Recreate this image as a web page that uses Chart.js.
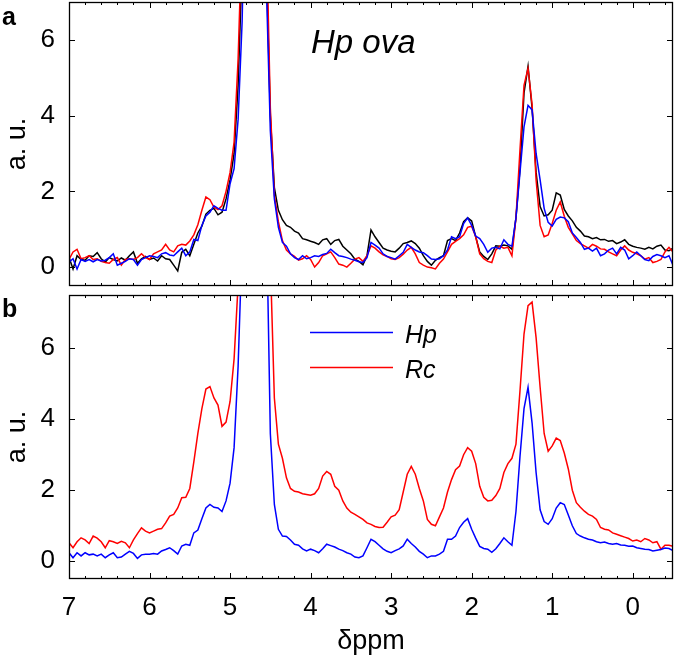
<!DOCTYPE html>
<html lang="en">
<head>
<meta charset="UTF-8">
<title>Hp ova spectra</title>
<script src="https://cdn.jsdelivr.net/npm/chart.js"></script>
<style>
  body { margin: 0; background: #fff; }
  .panel { position: absolute; left: 0; width: 675px; }
  #panel-a { top: 0; height: 290px; }
  #panel-b { top: 290px; height: 368px; }
</style>
</head>
<body>
<div class="panel" id="panel-a"><canvas id="chart-a"></canvas></div>
<div class="panel" id="panel-b"><canvas id="chart-b"></canvas></div>
<script>
// chemical shift grid (ppm), 7.00 down to -0.50
const ppm = [
  7.00, 6.95, 6.90, 6.85, 6.80, 6.75, 6.70, 6.65, 6.60, 6.55,
  6.50, 6.45, 6.40, 6.35, 6.30, 6.25, 6.20, 6.15, 6.10, 6.05,
  6.00, 5.95, 5.90, 5.85, 5.80, 5.75, 5.70, 5.65, 5.60, 5.55,
  5.50, 5.45, 5.40, 5.35, 5.30, 5.25, 5.20, 5.15, 5.10, 5.05,
  5.00, 4.95, 4.90, 4.85, 4.80, 4.75, 4.70, 4.65, 4.60, 4.55,
  4.50, 4.45, 4.40, 4.35, 4.30, 4.25, 4.20, 4.15, 4.10, 4.05,
  4.00, 3.95, 3.90, 3.85, 3.80, 3.75, 3.70, 3.65, 3.60, 3.55,
  3.50, 3.45, 3.40, 3.35, 3.30, 3.25, 3.20, 3.15, 3.10, 3.05,
  3.00, 2.95, 2.90, 2.85, 2.80, 2.75, 2.70, 2.65, 2.60, 2.55,
  2.50, 2.45, 2.40, 2.35, 2.30, 2.25, 2.20, 2.15, 2.10, 2.05,
  2.00, 1.95, 1.90, 1.85, 1.80, 1.75, 1.70, 1.65, 1.60, 1.55,
  1.50, 1.45, 1.40, 1.35, 1.30, 1.25, 1.20, 1.15, 1.10, 1.05,
  1.00, 0.95, 0.90, 0.85, 0.80, 0.75, 0.70, 0.65, 0.60, 0.55,
  0.50, 0.45, 0.40, 0.35, 0.30, 0.25, 0.20, 0.15, 0.10, 0.05,
  0.00, -0.05, -0.10, -0.15, -0.20, -0.25, -0.30, -0.35, -0.40, -0.45,
  -0.50
];

// panel a - Hp ova, three spectra
const ovaBlack = [
  0.26, -0.05, 0.30, 0.20, 0.18, 0.30, 0.28, 0.38, 0.22, 0.13,
  0.25, 0.20, 0.16, 0.24, 0.18, 0.30, 0.40, 0.10, 0.22, 0.28,
  0.20, 0.24, 0.16, 0.30, 0.22, 0.20, 0.05, -0.10, 0.39, 0.47,
  0.30, 0.60, 0.90, 1.08, 1.40, 1.50, 1.55, 1.38, 1.45, 1.80,
  2.30, 3.00, 4.80, 8.0, 14, 22, 28, 28, 20, 8.0,
  4.00, 2.10, 1.50, 1.25, 1.10, 1.05, 0.95, 0.90, 0.75, 0.72,
  0.68, 0.65, 0.60, 0.72, 0.75, 0.60, 0.70, 0.73, 0.55, 0.45,
  0.35, 0.21, 0.15, 0.06, 0.30, 0.98, 0.80, 0.65, 0.50, 0.45,
  0.42, 0.40, 0.50, 0.62, 0.65, 0.69, 0.62, 0.50, 0.30, 0.15,
  0.05, 0.18, 0.25, 0.30, 0.70, 0.75, 0.70, 0.90, 1.20, 1.30,
  1.22, 0.80, 0.40, 0.28, 0.20, 0.35, 0.56, 0.55, 0.58, 0.56,
  0.47, 1.30, 2.60, 4.60, 5.30, 4.20, 2.50, 1.60, 1.35, 1.38,
  1.50, 1.96, 1.90, 1.52, 1.35, 1.22, 1.05, 0.95, 0.82, 0.80,
  0.75, 0.78, 0.72, 0.73, 0.68, 0.70, 0.62, 0.66, 0.72, 0.60,
  0.55, 0.52, 0.50, 0.47, 0.52, 0.48, 0.55, 0.58, 0.45, 0.43,
  0.50
];
const ovaRed = [
  0.20, 0.40, 0.47, 0.22, 0.25, 0.30, 0.20, 0.22, 0.15, 0.12,
  0.10, 0.20, 0.25, 0.05, 0.20, 0.22, 0.20, 0.25, 0.35, 0.25,
  0.20, 0.35, 0.40, 0.45, 0.60, 0.45, 0.40, 0.56, 0.60, 0.58,
  0.69, 0.85, 1.12, 1.50, 1.85, 1.78, 1.58, 1.52, 1.62, 2.00,
  2.50, 3.30, 5.50, 9.0, 15, 23, 28, 28, 21, 9.0,
  4.20, 1.90, 1.20, 0.70, 0.45, 0.35, 0.28, 0.18, 0.22, 0.30,
  0.20, 0.00, 0.12, 0.30, 0.35, 0.40, 0.25, 0.08, 0.05, 0.00,
  0.10, 0.21, 0.25, 0.15, 0.30, 0.56, 0.50, 0.40, 0.32, 0.28,
  0.22, 0.20, 0.25, 0.34, 0.45, 0.52, 0.35, 0.12, 0.05, 0.00,
  -0.02, -0.05, 0.10, 0.21, 0.40, 0.60, 0.68, 0.75, 0.85, 1.05,
  1.08, 0.80, 0.35, 0.22, 0.15, 0.12, 0.45, 0.55, 0.50, 0.52,
  0.30, 1.30, 3.10, 4.80, 5.25, 4.30, 2.30, 1.10, 0.80, 0.85,
  1.15, 1.50, 1.72, 1.34, 1.05, 0.88, 0.70, 0.62, 0.56, 0.50,
  0.60, 0.55, 0.48, 0.47, 0.40, 0.35, 0.30, 0.45, 0.56, 0.45,
  0.39, 0.35, 0.30, 0.21, 0.25, 0.12, 0.15, 0.20, 0.40, 0.52,
  0.40
];
const ovaBlue = [
  0.13, 0.22, -0.05, 0.20, 0.15, 0.20, 0.14, 0.20, 0.16, 0.18,
  0.25, 0.35, 0.05, 0.10, 0.15, 0.22, 0.20, 0.05, 0.20, 0.25,
  0.30, 0.28, 0.25, 0.35, 0.38, 0.32, 0.30, 0.40, 0.50, 0.30,
  0.40, 0.73, 0.70, 1.10, 1.35, 1.45, 1.62, 1.55, 1.50, 1.50,
  2.20, 2.60, 3.90, 6.5, 12, 20, 27, 27, 19, 7.5,
  3.60, 1.80, 1.05, 0.65, 0.55, 0.35, 0.25, 0.20, 0.30, 0.22,
  0.25, 0.30, 0.28, 0.33, 0.36, 0.47, 0.38, 0.30, 0.28, 0.25,
  0.21, 0.18, 0.14, 0.12, 0.25, 0.65, 0.58, 0.50, 0.35, 0.28,
  0.25, 0.21, 0.30, 0.39, 0.60, 0.52, 0.45, 0.40, 0.38, 0.30,
  0.21, 0.20, 0.22, 0.30, 0.45, 0.80, 0.75, 0.80, 1.15, 1.30,
  1.10, 0.82, 0.75, 0.60, 0.39, 0.50, 0.52, 0.48, 0.72, 0.60,
  0.55, 1.30, 2.50, 3.70, 4.27, 4.15, 3.00, 2.30, 1.55, 1.18,
  1.08, 1.26, 1.32, 1.30, 1.20, 0.90, 0.78, 0.65, 0.47, 0.50,
  0.42, 0.50, 0.30, 0.35, 0.45, 0.50, 0.35, 0.52, 0.45, 0.22,
  0.30, 0.40, 0.30, 0.20, 0.17, 0.28, 0.33, 0.30, 0.25, 0.30,
  0.05
];

// panel b - Hp vs Rc
const hpValues = [
  0.24, 0.10, 0.24, 0.15, 0.24, 0.18, 0.20, 0.15, 0.20, 0.10,
  0.18, 0.24, 0.10, 0.12, 0.20, 0.28, 0.22, 0.08, 0.18, 0.20,
  0.20, 0.22, 0.20, 0.29, 0.33, 0.38, 0.30, 0.20, 0.43, 0.48,
  0.45, 0.80, 0.88, 1.20, 1.50, 1.60, 1.52, 1.50, 1.40, 1.70,
  2.20, 3.20, 5.50, 9.0, 16, 25, 32, 32, 24, 10,
  3.60, 1.60, 0.90, 0.71, 0.70, 0.60, 0.48, 0.45, 0.35, 0.29,
  0.34, 0.30, 0.24, 0.35, 0.48, 0.44, 0.40, 0.34, 0.30, 0.24,
  0.20, 0.12, 0.10, 0.15, 0.38, 0.62, 0.55, 0.45, 0.35, 0.28,
  0.24, 0.30, 0.35, 0.43, 0.62, 0.50, 0.40, 0.28, 0.20, 0.10,
  0.15, 0.15, 0.20, 0.28, 0.62, 0.62, 0.71, 0.95, 1.10, 1.20,
  0.90, 0.65, 0.42, 0.36, 0.34, 0.25, 0.35, 0.50, 0.66, 0.55,
  0.45, 1.40, 2.95, 4.30, 4.90, 3.90, 2.50, 1.45, 1.12, 1.04,
  1.20, 1.50, 1.65, 1.60, 1.30, 1.00, 0.78, 0.71, 0.66, 0.62,
  0.60, 0.55, 0.52, 0.54, 0.50, 0.48, 0.50, 0.46, 0.45, 0.42,
  0.43, 0.38, 0.36, 0.34, 0.33, 0.29, 0.31, 0.33, 0.37, 0.36,
  0.30
];
const rcValues = [
  0.52, 0.38, 0.55, 0.66, 0.60, 0.50, 0.71, 0.65, 0.55, 0.38,
  0.58, 0.55, 0.50, 0.56, 0.52, 0.38, 0.60, 0.78, 0.94, 0.85,
  0.80, 0.85, 0.90, 0.92, 1.08, 1.27, 1.32, 1.50, 1.79, 1.80,
  2.05, 2.80, 3.60, 4.30, 4.85, 4.92, 4.60, 4.40, 3.80, 3.92,
  4.50, 5.70, 7.80, 12, 20, 28, 34, 34, 28, 16,
  8.50, 4.60, 3.30, 2.90, 2.35, 2.05, 1.97, 1.95, 1.90, 1.88,
  1.86, 1.90, 2.05, 2.40, 2.53, 2.45, 2.11, 2.00, 1.70, 1.50,
  1.38, 1.32, 1.25, 1.18, 1.08, 1.04, 0.98, 0.95, 0.96, 1.10,
  1.25, 1.30, 1.45, 1.95, 2.45, 2.67, 2.45, 2.05, 1.70, 1.18,
  1.04, 1.00, 1.25, 1.50, 1.95, 2.30, 2.58, 2.68, 3.00, 3.20,
  3.10, 2.75, 2.11, 1.80, 1.70, 1.72, 1.85, 2.05, 2.50, 2.75,
  2.90, 3.30, 4.80, 6.40, 7.20, 7.30, 6.30, 4.90, 3.60, 3.10,
  3.25, 3.47, 3.40, 3.05, 2.60, 2.00, 1.65, 1.52, 1.41, 1.32,
  1.27, 1.18, 0.95, 0.90, 0.88, 0.80, 0.76, 0.72, 0.68, 0.64,
  0.57, 0.60, 0.55, 0.64, 0.60, 0.52, 0.55, 0.34, 0.45, 0.45,
  0.42
];

const xTicks = [7, 6, 5, 4, 3, 2, 1, 0];
const yTicks = [0, 2, 4, 6];
const seriesNames = ['Hp', 'Rc'];

Chart.defaults.font.family = '"Liberation Sans", Arial, sans-serif';
Chart.defaults.color = '#000';

function points(values) {
  return ppm.map((x, i) => ({ x: x, y: values[i] }));
}

function line(label, values, color) {
  return {
    label: label,
    data: points(values),
    borderColor: color,
    borderWidth: 1.5,
    pointRadius: 0,
    fill: false,
    tension: 0
  };
}

// box with inward tick marks on all four sides
const framePlugin = {
  id: 'frame',
  afterDatasetsDraw(chart) {
    const { ctx, chartArea: a, scales } = chart;
    const x = scales.x, y = scales.y;
    ctx.save();
    ctx.strokeStyle = '#000';
    ctx.lineWidth = 1.3;
    ctx.strokeRect(a.left + 0.5, a.top + 0.5, a.right - a.left - 1, a.bottom - a.top - 1);
    ctx.lineWidth = 1;
    ctx.beginPath();
    for (let k = 0; k <= 37; k++) {
      const v = 7 - k * 0.2;
      const major = Math.abs(v - Math.round(v)) < 0.01;
      const len = major ? 6 : 3;
      const px = Math.round(x.getPixelForValue(v)) + 0.5;
      ctx.moveTo(px, a.bottom);
      ctx.lineTo(px, a.bottom - len);
      ctx.moveTo(px, a.top);
      ctx.lineTo(px, a.top + len);
    }
    yTicks.forEach(v => {
      const py = Math.round(y.getPixelForValue(v)) + 0.5;
      ctx.moveTo(a.left, py);
      ctx.lineTo(a.left + 6, py);
      ctx.moveTo(a.right, py);
      ctx.lineTo(a.right - 6, py);
    });
    ctx.stroke();
    ctx.restore();
  }
};

function xScale(showLabels) {
  return {
    type: 'linear',
    reverse: true,
    min: -0.5,
    max: 7,
    display: showLabels,
    grid: { display: false },
    border: { display: false },
    afterBuildTicks: s => { s.ticks = xTicks.map(v => ({ value: v })); },
    ticks: { font: { size: 26 }, padding: 5, maxRotation: 0, autoSkip: false },
    title: { display: true, text: 'δppm', font: { size: 27 }, padding: { top: 0, bottom: 0 } },
    afterFit: s => {
      s.height = showLabels ? 79 : 0;
      s.paddingLeft = 0;
      s.paddingRight = 0;
    }
  };
}

function yScale(max) {
  return {
    type: 'linear',
    min: -0.5,
    max: max,
    grid: { display: false },
    border: { display: false },
    afterBuildTicks: s => { s.ticks = yTicks.map(v => ({ value: v })); },
    ticks: { font: { size: 26 }, padding: 6 },
    title: { display: true, text: 'a. u.', font: { size: 27 }, padding: { top: 1, bottom: 0 } },
    afterFit: s => {
      s.width = 69;
      s.paddingTop = 0;
      s.paddingBottom = 0;
    }
  };
}

const baseOptions = {
  responsive: true,
  maintainAspectRatio: false,
  animation: false,
  devicePixelRatio: 1,
  plugins: { legend: { display: false }, tooltip: { enabled: false } }
};

// panel a
new Chart(document.getElementById('chart-a'), {
  type: 'line',
  data: {
    datasets: [
      line('Hp ova 3', ovaBlue, '#0000ff'),
      line('Hp ova 2', ovaRed, '#ff0000'),
      line('Hp ova 1', ovaBlack, '#000000')
    ]
  },
  options: {
    ...baseOptions,
    layout: { padding: { top: 2, right: 2, bottom: 4, left: 0 } },
    scales: { x: xScale(false), y: yScale(7) }
  },
  plugins: [framePlugin, {
    id: 'labelsA',
    afterDraw(chart) {
      const ctx = chart.ctx;
      ctx.save();
      ctx.fillStyle = '#000';
      ctx.font = 'bold 25px "Liberation Sans", Arial, sans-serif';
      ctx.textBaseline = 'alphabetic';
      ctx.fillText('a', 2, 25);
      ctx.font = 'italic 33px "Liberation Sans", Arial, sans-serif';
      ctx.fillText('Hp ova', 311, 53);
      ctx.restore();
    }
  }]
});

// panel b
new Chart(document.getElementById('chart-b'), {
  type: 'line',
  data: {
    datasets: [
      line(seriesNames[0], hpValues, '#0000ff'),
      line(seriesNames[1], rcValues, '#ff0000')
    ]
  },
  options: {
    ...baseOptions,
    layout: { padding: { top: 5, right: 2, bottom: 0, left: 0 } },
    scales: { x: xScale(true), y: yScale(7.5) }
  },
  plugins: [framePlugin, {
    id: 'labelsB',
    afterDraw(chart) {
      const ctx = chart.ctx;
      ctx.save();
      ctx.fillStyle = '#000';
      ctx.font = 'bold 25px "Liberation Sans", Arial, sans-serif';
      ctx.fillText('b', 2, 27);
      ctx.font = 'italic 25px "Liberation Sans", Arial, sans-serif';
      chart.data.datasets.forEach((ds, i) => {
        const yy = 42 + i * 35;
        ctx.strokeStyle = ds.borderColor;
        ctx.lineWidth = 1.4;
        ctx.beginPath();
        ctx.moveTo(310, yy + 0.5);
        ctx.lineTo(393, yy + 0.5);
        ctx.stroke();
        ctx.fillText(ds.label, 405, yy + 11);
      });
      ctx.restore();
    }
  }]
});
</script>
</body>
</html>
